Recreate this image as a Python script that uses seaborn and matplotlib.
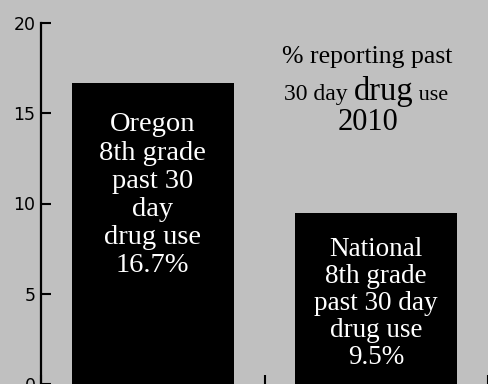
import seaborn as sns
import matplotlib.pyplot as plt
from matplotlib.offsetbox import TextArea, HPacker, AnnotationBbox

# data
groups = ['Oregon', 'National']
pct = [16.7, 9.5]
bar_labels = ['Oregon\n8th grade\npast 30\nday\ndrug use\n16.7%',
              'National\n8th grade\npast 30 day\ndrug use\n9.5%']
yticks = [0, 5, 10, 15, 20]

bg = '#c0c0c0'
serif = 'Liberation Serif'

sns.set_theme(style='ticks')
plt.rcParams['font.family'] = ['DejaVu Sans']

fig = plt.figure(figsize=(4.88, 3.84), dpi=100, facecolor=bg)
ax = fig.add_axes([41 / 488, 0, 1 - 41 / 488, 361 / 384])
ax.set_facecolor(bg)

sns.barplot(x=groups, y=pct, color='black', saturation=1, width=0.725,
            linewidth=0, ax=ax)

ax.set_xlim(-0.495, 1.47)
ax.set_ylim(0, 20)
ax.set_yticks(yticks)
ax.set_xticks([-0.5, 0.5, 1.5])
ax.set_xticklabels([])
ax.tick_params(axis='y', direction='in', length=7, width=1.5, labelsize=12.5,
               colors='black', pad=4)
ax.tick_params(axis='x', direction='in', length=6.5, width=1.5, colors='black')
for s in ['top', 'right', 'bottom']:
    ax.spines[s].set_visible(False)
ax.spines['left'].set_linewidth(1.6)
ax.spines['left'].set_color('black')
ax.grid(False)

# labels inside the bars
ax.text(0, 10.45, bar_labels[0], ha='center', va='center', color='white',
        fontsize=20.5, family=serif, linespacing=1.17)
ax.text(1, 4.45, bar_labels[1], ha='center', va='center', color='white',
        fontsize=19.5, family=serif, linespacing=1.1)

# heading in the upper right
ax.text(0.96, 18.1, '% reporting past', ha='center', va='center',
        fontsize=18.5, family=serif, color='black')
row = HPacker(children=[
    TextArea('30 day ', textprops=dict(fontsize=17, family=serif, color='black')),
    TextArea('drug', textprops=dict(fontsize=23.5, family=serif, color='black')),
    TextArea(' use', textprops=dict(fontsize=16, family=serif, color='black')),
], align='baseline', pad=0, sep=0)
ab = AnnotationBbox(row, (0.955, 16.2), xycoords='data', frameon=False,
                    box_alignment=(0.5, 0.5))
ax.add_artist(ab)
ax.text(0.965, 14.5, '2010', ha='center', va='center',
        fontsize=22, family=serif, color='black')

ax.set_xlabel('')
ax.set_ylabel('')

plt.savefig('out.png', dpi=100, facecolor=bg)
